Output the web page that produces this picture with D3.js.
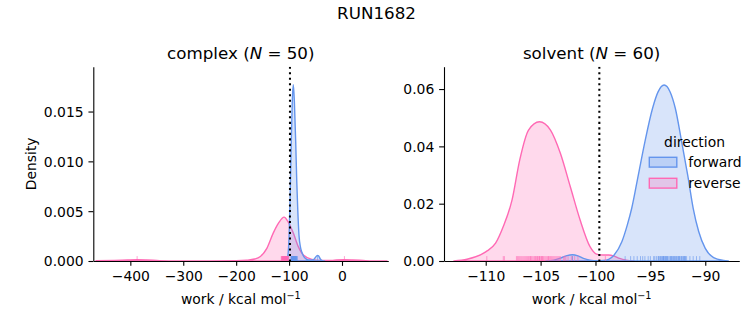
<!DOCTYPE html>
<html><head><meta charset="utf-8">
<script src="https://cdn.jsdelivr.net/npm/d3@7"></script>
<style>
body{margin:0;background:#fff}
svg{display:block;background:#fff}
text{font-family:"DejaVu Sans",sans-serif;fill:#000}
</style>
</head><body>
<svg id="chart" width="753" height="325"></svg>
<script>
// ---------- data ----------
const suptitle = "RUN1682";
const panelNames = ["complex", "solvent"];
const panelCounts = [50, 60];
const directions = ["forward", "reverse"];
const legendTitle = "direction";
const xLabelText = "work / kcal mol";
const yLabelText = "Density";

const complexXTicks = [-400, -300, -200, -100, 0];
const complexYTicks = [0, 0.005, 0.010, 0.015];
const solventXTicks = [-110, -105, -100, -95, -90];
const solventYTicks = [0, 0.02, 0.04, 0.06];
const complexXDomain = [-470, 87.5];
const complexYDomain = [0, 0.0195];
const solventXDomain = [-113.8, -86.9];
const solventYDomain = [0, 0.0678];
const complexMarker = -98.3;
const solventMarker = -99.65;

// density curves
const complexForwardWork    = [-106, -103, -100, -98, -96, -94, -92, -90, -87.5, -85.5, -83.7, -81.3, -78.5, -76, -70, -63, -55, -51, -48, -46, -44, -41, -37, -33];
const complexForwardDensity = [0, 0.0003, 0.0025, 0.0065, 0.0115, 0.0160, 0.0177, 0.0160, 0.0120, 0.0080, 0.0053, 0.0026, 0.0014, 0.0009, 0.0003, 0.0001, 0.0001, 0.0003, 0.0005, 0.00055, 0.0005, 0.0002, 0.00003, 0];
const complexReverseWork    = [-465, -430, -405, -387, -370, -345, -310, -250, -200, -180, -165, -155, -142, -130, -120, -109.5, -101.5, -92, -82.6, -73, -57, -40, -20, -10, 4, 20, 45, 70, 85];
const complexReverseDensity = [0.00002, 0.00006, 0.0001, 0.00012, 0.0001, 0.00004, 0.00001, 0.00001, 0.00003, 0.00008, 0.0002, 0.00043, 0.00127, 0.0028, 0.0038, 0.0044, 0.0039, 0.0028, 0.00144, 0.0006, 0.00017, 0.00006, 0.00006, 0.0001, 0.00012, 0.0001, 0.00004, 0.00001, 0.00001];

const solventForwardWork    = [-104.5, -103.8, -103.2, -102.6, -102.1, -101.6, -101.1, -100.5, -99.8, -99.3, -98.8, -98.3, -97.6, -97.1, -96.7, -96.1, -95.5, -94.8, -94.3, -93.75, -93.2, -92.73, -92.15, -91.6, -91.1, -90.6, -90.0, -89.24, -88.33, -87.9];
const solventForwardDensity = [0, 0.0003, 0.0010, 0.0019, 0.0022, 0.0018, 0.0009, 0.0003, 0.0001, 0.0002, 0.0006, 0.0021, 0.0067, 0.0126, 0.0184, 0.0300, 0.0416, 0.0533, 0.0590, 0.0614, 0.0590, 0.0533, 0.0416, 0.0300, 0.0184, 0.0103, 0.0044, 0.0012, 0.0002, 0];
const solventReverseWork    = [-112.9, -111.7, -110.0, -109.1, -108.4, -107.6, -106.9, -106.1, -105.1, -104.1, -103.2, -102.3, -101.4, -100.5, -99.9, -99.3, -98.8, -98.3, -97.8, -97.2, -96.5];
const solventReverseDensity = [0, 0.0006, 0.0032, 0.0062, 0.0120, 0.0213, 0.0353, 0.0457, 0.0486, 0.0457, 0.0376, 0.0260, 0.0143, 0.0050, 0.0024, 0.0021, 0.0021, 0.0017, 0.0009, 0.0003, 0];

// individual work values (rug)
const complexForwardRug = [-96.3, -95.9, -95.4, -95.0, -94.6, -94.1, -93.8, -93.5, -93.2, -92.9, -92.7, -92.4, -92.2, -91.9, -91.7, -91.5, -91.2, -91.0, -90.7, -90.5, -90.2, -89.9, -89.6, -89.3, -89.1, -88.8, -88.4, -88.1, -87.7, -87.3, -86.9, -86.4, -85.8, -85.1, -84.6, -93.6, -92.5, -91.4, -90.4, -89.4, -94.8, -92.0, -90.9, -88.6, -87.9, -93.0, -91.1, -89.8, -86.7, -46.1];
const complexReverseRug = [-387.2, -114.8, -113.9, -113.1, -112.6, -112.0, -111.7, -111.1, -110.8, -110.2, -109.9, -109.5, -109.1, -108.8, -108.3, -108.0, -107.7, -107.2, -106.9, -106.5, -106.3, -105.8, -105.4, -105.1, -104.9, -104.4, -104.1, -103.8, -103.3, -103.0, -102.7, -102.4, -102.0, -101.7, -110.5, -108.6, -107.4, -106.0, -104.7, -103.6, -112.3, -109.3, -105.7, -113.5, -111.4, -107.9, -104.2, -102.9, -101.9, 4.6];
const solventForwardRug = [-102.1, -97.3, -96.8, -96.5, -96.2, -95.9, -95.7, -95.5, -95.2, -95.0, -94.7, -94.3, -94.2, -94.1, -94.0, -93.9, -93.8, -93.8, -93.7, -93.6, -93.5, -93.4, -93.3, -93.2, -93.1, -93.0, -92.9, -92.8, -92.7, -92.6, -92.5, -92.4, -92.3, -92.2, -92.1, -92.0, -91.9, -91.8, -91.7, -91.4, -91.1, -90.8, -90.5, -94.25, -94.05, -93.85, -93.65, -93.45, -93.15, -92.85, -92.45, -92.15, -91.85, -93.55, -92.65, -94.45, -93.05, -92.35, -91.95, -94.6];
const solventReverseRug = [-109.9, -108.4, -108.3, -107.2, -107.0, -106.9, -106.7, -106.6, -106.5, -106.3, -106.2, -106.0, -105.9, -105.8, -105.6, -105.5, -105.4, -105.3, -105.2, -105.1, -105.0, -104.9, -104.8, -104.7, -104.5, -104.4, -104.3, -104.2, -104.0, -103.9, -103.8, -103.6, -103.5, -103.3, -103.2, -102.9, -102.7, -102.5, -102.2, -101.9, -101.6, -106.8, -106.1, -105.7, -105.3, -104.6, -104.1, -103.7, -105.9, -105.1, -104.9, -106.4, -104.3, -103.4, -105.5, -104.8, -107.1, -102.8, -99.1, -102.1];

// ---------- styles / layout ----------
const colors = {forward: "#6495ed", reverse: "#ff69b4"};
const FS = 13.9, TFS = 16.7;
const axTop = 66.7, axBottom = 261;
const panels = [
  {name: panelNames[0], n: panelCounts[0], left: 93.3, right: 388.3,
   xDomain: complexXDomain, yDomain: complexYDomain, xTicks: complexXTicks, yTicks: complexYTicks, yFmt: ".3f",
   marker: complexMarker, ylabel: true, legend: false,
   curves: {forward: [complexForwardWork, complexForwardDensity], reverse: [complexReverseWork, complexReverseDensity]},
   rugs: {forward: complexForwardRug, reverse: complexReverseRug}},
  {name: panelNames[1], n: panelCounts[1], left: 444, right: 739.3,
   xDomain: solventXDomain, yDomain: solventYDomain, xTicks: solventXTicks, yTicks: solventYTicks, yFmt: ".2f",
   marker: solventMarker, ylabel: false, legend: true,
   curves: {forward: [solventForwardWork, solventForwardDensity], reverse: [solventReverseWork, solventReverseDensity]},
   rugs: {forward: solventForwardRug, reverse: solventReverseRug}}
];

const svg = d3.select("#chart");
svg.append("rect").attr("width", 753).attr("height", 325).attr("fill", "#fff");

svg.append("text").attr("x", 376.5).attr("y", 19).attr("text-anchor", "middle")
  .style("font-size", TFS + "px").text(suptitle);

panels.forEach(p => {
  const x = d3.scaleLinear().domain(p.xDomain).range([p.left, p.right]);
  const y = d3.scaleLinear().domain(p.yDomain).range([axBottom, axTop]);
  const g = svg.append("g");
  const clipId = "clip-" + p.name;
  svg.append("clipPath").attr("id", clipId).append("rect")
    .attr("x", p.left).attr("y", axTop).attr("width", p.right - p.left).attr("height", axBottom - axTop + 1);
  const plot = g.append("g").attr("clip-path", `url(#${clipId})`);

  // KDE areas: reverse first, forward on top
  ["reverse", "forward"].forEach(dir => {
    const [ws, ds] = p.curves[dir];
    const pts = ws.map((w, i) => [w, ds[i]]);
    const area = d3.area().x(d => x(d[0])).y0(y(0)).y1(d => y(d[1])).curve(d3.curveMonotoneX);
    plot.append("path").attr("d", area(pts))
      .attr("fill", colors[dir]).attr("fill-opacity", 0.25)
      .attr("stroke", colors[dir]).attr("stroke-width", 1.4).attr("stroke-linejoin", "round");
  });

  // rugs
  ["reverse", "forward"].forEach(dir => {
    plot.append("g").selectAll("line").data(p.rugs[dir]).join("line")
      .attr("x1", d => x(d)).attr("x2", d => x(d))
      .attr("y1", axBottom).attr("y2", axBottom - 4.9)
      .attr("stroke", colors[dir]).attr("stroke-width", 1).attr("stroke-opacity", 0.6);
  });

  // marker line
  plot.append("line").attr("x1", x(p.marker)).attr("x2", x(p.marker))
    .attr("y1", axTop).attr("y2", axBottom)
    .attr("stroke", "#000").attr("stroke-width", 2.08).attr("stroke-dasharray", "2.08,3.43");

  // axes
  const xAxis = d3.axisBottom(x).tickValues(p.xTicks).tickSize(4.86).tickPadding(4.86).tickSizeOuter(0)
    .tickFormat(d3.format("d"));
  const xg = g.append("g").attr("transform", `translate(0,${axBottom})`).call(xAxis);
  const yAxis = d3.axisLeft(y).tickValues(p.yTicks).tickSize(4.86).tickPadding(4.86).tickSizeOuter(0)
    .tickFormat(d3.format(p.yFmt));
  const yg = g.append("g").attr("transform", `translate(${p.left},0)`).call(yAxis);
  [xg, yg].forEach(a => {
    a.selectAll("path,line").attr("stroke", "#000").attr("stroke-width", 1.1);
    a.selectAll("text").style("font-size", FS + "px").style("font-family", '"DejaVu Sans",sans-serif').attr("fill", "#000");
  });
  yg.selectAll(".tick text").attr("dy", "0.35em");

  // title
  const cx = (p.left + p.right) / 2;
  const t = g.append("text").attr("x", cx).attr("y", 59).attr("text-anchor", "middle").style("font-size", TFS + "px");
  t.append("tspan").text(p.name + " (");
  t.append("tspan").style("font-style", "italic").text("N");
  t.append("tspan").text(" = " + p.n + ")");

  // x label
  const xl = g.append("text").attr("x", cx).attr("y", 304).attr("text-anchor", "middle").style("font-size", FS + "px");
  xl.append("tspan").text(xLabelText);
  xl.append("tspan").attr("dy", -5.5).style("font-size", "9.7px").text("\u22121");

  if (p.ylabel) {
    g.append("text").attr("transform", `translate(35.5,${(axTop + axBottom) / 2}) rotate(-90)`)
      .attr("text-anchor", "middle").style("font-size", FS + "px").text(yLabelText);
  }

  if (p.legend) {
    const lg = g.append("g");
    lg.append("text").attr("x", 694.5).attr("y", 146.5).attr("text-anchor", "middle")
      .style("font-size", FS + "px").text(legendTitle);
    directions.forEach((dir, i) => {
      const yy = 157.3 + i * 21;
      lg.append("rect").attr("x", 649.3).attr("y", yy).attr("width", 27.5).attr("height", 9.8)
        .attr("fill", colors[dir]).attr("fill-opacity", 0.25)
        .attr("stroke", colors[dir]).attr("stroke-width", 1.4);
      lg.append("text").attr("x", 688.3).attr("y", yy + 9.8).style("font-size", FS + "px").text(dir);
    });
  }
});
</script>
</body></html>
